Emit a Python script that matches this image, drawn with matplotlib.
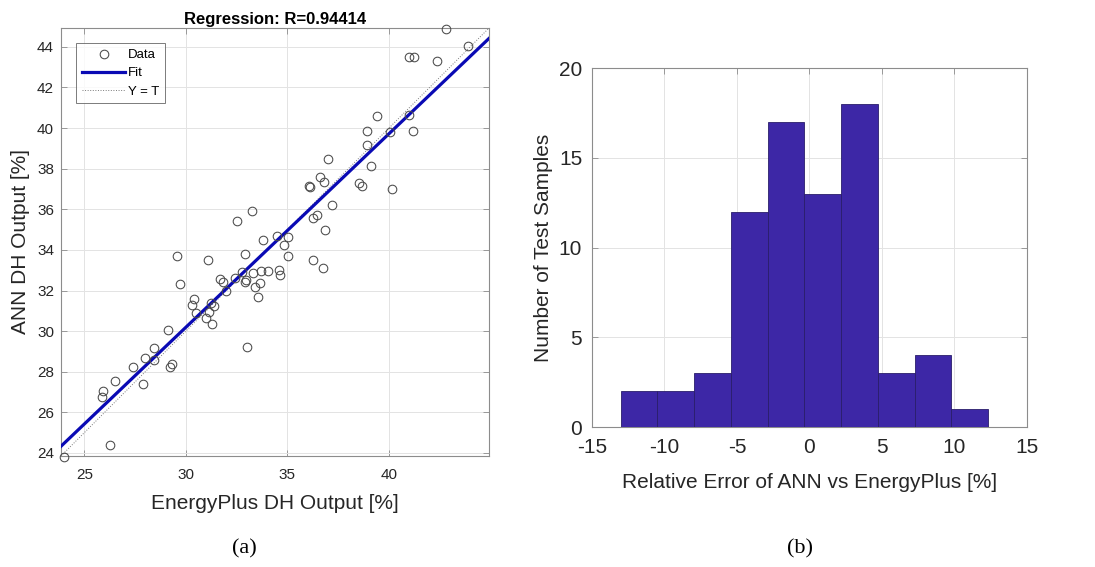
import numpy as np
import matplotlib
matplotlib.use('Agg')
import matplotlib.pyplot as plt
from matplotlib.lines import Line2D

# ---- data ----
# (a) regression: EnergyPlus target vs ANN output [%]
target = [42.8, 43.9, 41.0, 41.25, 42.35, 39.4, 41.0, 40.05, 41.2, 38.9,
          38.9, 37.0, 39.1, 36.6, 36.8, 36.05, 36.1, 38.55, 38.65, 40.15,
          37.2, 36.25, 36.45, 32.5, 33.25, 36.85, 33.8, 34.5, 35.05, 34.85,
          29.55, 29.7, 31.1, 32.9, 35.05, 36.25, 36.75, 34.6, 34.65, 34.05,
          33.7, 33.3, 32.75, 32.4, 31.7, 31.85, 32.0, 32.95, 32.9, 33.4,
          33.55, 33.65, 30.4, 30.3, 30.5, 31.0, 31.15, 31.25, 31.4, 31.3,
          29.1, 33.0, 28.45, 28.0, 28.45, 27.4, 29.3, 29.2, 26.5, 25.9,
          25.85, 27.9, 26.25, 24.0]
ann_out = [44.9, 44.05, 43.5, 43.5, 43.3, 40.6, 40.65, 39.8, 39.85, 39.85,
           39.15, 38.5, 38.15, 37.6, 37.35, 37.15, 37.1, 37.3, 37.15, 37.0,
           36.2, 35.55, 35.7, 35.4, 35.9, 35.0, 34.5, 34.7, 34.65, 34.25,
           33.7, 32.3, 33.5, 33.8, 33.7, 33.5, 33.1, 33.0, 32.75, 32.95,
           32.95, 32.85, 32.9, 32.6, 32.55, 32.4, 32.0, 32.5, 32.4, 32.15,
           31.7, 32.35, 31.6, 31.3, 30.9, 30.65, 30.95, 31.4, 31.25, 30.35,
           30.05, 29.2, 29.15, 28.7, 28.6, 28.25, 28.4, 28.25, 27.55, 27.05,
           26.75, 27.4, 24.4, 23.8]
fit_slope = 0.953
fit_intercept = 1.6
r_value = 0.94414
ax_lim = [23.85, 44.93]

# (b) histogram of relative error
bin_edges = [-13.02, -10.49, -7.96, -5.42, -2.89, -0.36, 2.18, 4.71, 7.25, 9.78, 12.32]
bin_counts = [2, 2, 3, 12, 17, 13, 18, 3, 4, 1]

plt.rcParams['font.family'] = ['Liberation Sans', 'DejaVu Sans']
plt.rcParams['axes.unicode_minus'] = False
txt = '#262626'
spine = '#8c8c8c'
grid_c = '#e3e3e3'

fig = plt.figure(figsize=(10.95, 5.67), dpi=100)


def matlab_axes(ax, size, xpad, ypad):
    for s in ax.spines.values():
        s.set_color(spine)
        s.set_linewidth(0.8)
    ax.tick_params(direction='in', length=4, width=0.6, color=spine,
                   top=True, right=True, labelsize=size, labelcolor=txt)
    ax.tick_params(axis='x', pad=xpad)
    ax.tick_params(axis='y', pad=ypad)
    ax.grid(True, color=grid_c, linewidth=0.7)
    ax.set_axisbelow(True)


# ---- (a) regression plot ----
ax1 = fig.add_axes([0.0557, 0.1958, 0.3909, 0.7548])
matlab_axes(ax1, 11, 9, 5)
ax1.plot(ax_lim, ax_lim, linestyle=':', color='#7a7a7a', linewidth=0.7, zorder=2)
xs = np.array(ax_lim)
ax1.plot(xs, fit_slope * xs + fit_intercept, color='#0a0ab4', linewidth=2.3, zorder=3)
ax1.plot(target, ann_out, linestyle='none', marker='o', markersize=6.2,
         markerfacecolor='none', markeredgecolor='#4a4a4a', markeredgewidth=0.75,
         zorder=4, clip_on=False)
ax1.set_xlim(ax_lim)
ax1.set_ylim(ax_lim)
ax1.set_xticks([25, 30, 35, 40])
ax1.set_yticks(np.arange(24, 45, 2))
ax1.set_xlabel('EnergyPlus DH Output [%]', fontsize=15, color=txt, labelpad=8)
ax1.set_ylabel('ANN DH Output [%]', fontsize=15, color=txt, labelpad=5)
ax1.set_title('Regression: R=%.5f' % r_value, fontsize=12, fontweight='bold',
              color='black', pad=3)

handles = [
    Line2D([], [], linestyle='none', marker='o', markersize=6.2,
           markerfacecolor='none', markeredgecolor='#4a4a4a', markeredgewidth=0.75),
    Line2D([], [], color='#0a0ab4', linewidth=2.3),
    Line2D([], [], color='#7a7a7a', linestyle=':', linewidth=0.7),
]
leg = ax1.legend(handles, ['Data', 'Fit', 'Y = T'], loc='upper left',
                 bbox_to_anchor=(0.035, 0.965), fontsize=9.5, frameon=True,
                 fancybox=False, edgecolor='#5a5a5a', handlelength=3.3,
                 handletextpad=0.2, borderpad=0.45, labelspacing=0.45,
                 borderaxespad=0)
leg.get_frame().set_linewidth(0.7)

# ---- (b) histogram ----
ax2 = fig.add_axes([0.5406, 0.2464, 0.3973, 0.6336])
matlab_axes(ax2, 15, 8, 7)
edges = np.array(bin_edges)
ax2.bar(edges[:-1], bin_counts, width=np.diff(edges), align='edge',
        color='#3d27a6', edgecolor='#2a1d6a', linewidth=0.6, zorder=3)
ax2.set_xlim(-15, 15)
ax2.set_ylim(0, 20)
ax2.set_xticks(np.arange(-15, 16, 5))
ax2.set_yticks(np.arange(0, 21, 5))
ax2.set_xlabel('Relative Error of ANN vs EnergyPlus [%]', fontsize=15,
               color=txt, labelpad=11)
ax2.set_ylabel('Number of Test Samples', fontsize=15, color=txt, labelpad=4)

# panel captions
fig.text(0.223, 0.032, '(a)', fontsize=16, family='Liberation Serif',
         ha='center', va='center')
fig.text(0.731, 0.032, '(b)', fontsize=16, family='Liberation Serif',
         ha='center', va='center')

fig.savefig('out.png', dpi=100)
